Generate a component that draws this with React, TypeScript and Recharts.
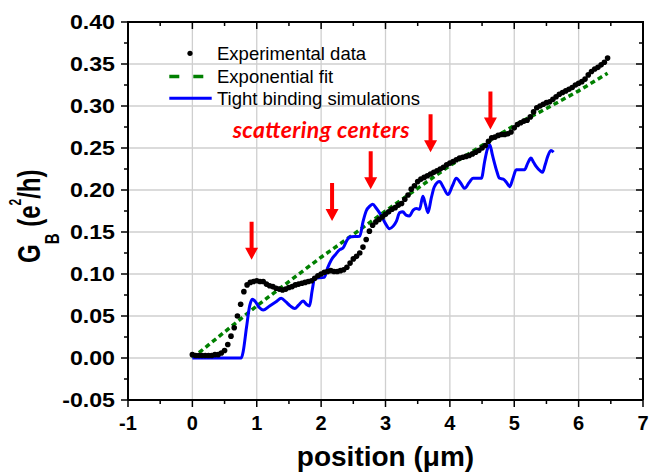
import { ComposedChart, Scatter, Line, XAxis, YAxis, Legend, ReferenceDot } from 'recharts'

const FONT = '"Liberation Sans", Arial, Helvetica, sans-serif'

// chart layout
const CHART_W = 662
const CHART_H = 473
const MARGIN = { top: 22, right: 19, bottom: 0, left: 0 }
const Y_AXIS_W = 128
const X_AXIS_H = 73
const PLOT_LEFT = MARGIN.left + Y_AXIS_W
const PLOT_TOP = MARGIN.top
const PLOT_W = CHART_W - MARGIN.right - PLOT_LEFT
const PLOT_H = CHART_H - MARGIN.bottom - X_AXIS_H - PLOT_TOP

// axis ticks
const X_MAJOR = [-1, 0, 1, 2, 3, 4, 5, 6, 7]
const X_TICKS = [-1, -0.5, 0, 0.5, 1, 1.5, 2, 2.5, 3, 3.5, 4, 4.5, 5, 5.5, 6, 6.5, 7]
const Y_MAJOR = [-0.05, 0, 0.05, 0.1, 0.15, 0.2, 0.25, 0.3, 0.35, 0.4]
const Y_TICKS = [
  -0.05, -0.025, 0, 0.025, 0.05, 0.075, 0.1, 0.125, 0.15, 0.175,
  0.2, 0.225, 0.25, 0.275, 0.3, 0.325, 0.35, 0.375, 0.4,
]
const X_MIN = -1
const X_MAX = 7
const Y_MIN = -0.05
const Y_MAX = 0.4

const SERIES_NAMES = ['Experimental data', 'Exponential fit', 'Tight binding simulations']

// experimental data (position in um, conductance in e^2/h)
const EXP_X = [
  0, 0.05, 0.1, 0.15, 0.2, 0.25, 0.3, 0.35, 0.4, 0.45,
  0.5, 0.55, 0.6, 0.65, 0.7, 0.75, 0.8, 0.85, 0.9, 0.95,
  1, 1.05, 1.1, 1.15, 1.2, 1.25, 1.3, 1.35, 1.4, 1.45,
  1.5, 1.55, 1.6, 1.65, 1.7, 1.75, 1.8, 1.85, 1.9, 1.95,
  2, 2.05, 2.1, 2.15, 2.2, 2.25, 2.3, 2.35, 2.4, 2.45,
  2.5, 2.55, 2.6, 2.65, 2.7, 2.75, 2.8, 2.85, 2.9, 2.95,
  3, 3.05, 3.1, 3.15, 3.2, 3.25, 3.3, 3.35, 3.4, 3.45,
  3.5, 3.55, 3.6, 3.65, 3.7, 3.75, 3.8, 3.85, 3.9, 3.95,
  4, 4.05, 4.1, 4.15, 4.2, 4.25, 4.3, 4.35, 4.4, 4.45,
  4.5, 4.55, 4.6, 4.65, 4.7, 4.75, 4.8, 4.85, 4.9, 4.95,
  5, 5.05, 5.1, 5.15, 5.2, 5.25, 5.3, 5.35, 5.4, 5.45,
  5.5, 5.55, 5.6, 5.65, 5.7, 5.75, 5.8, 5.85, 5.9, 5.95,
  6, 6.05, 6.1, 6.15, 6.2, 6.25, 6.3, 6.35, 6.4, 6.45,
]
const EXP_Y = [
  0.004, 0.003, 0.003, 0.003, 0.003, 0.003, 0.003, 0.004, 0.004, 0.006,
  0.009, 0.016, 0.026, 0.036, 0.05, 0.064, 0.079, 0.087, 0.09, 0.091,
  0.092, 0.091, 0.091, 0.088, 0.086, 0.085, 0.083, 0.082, 0.081, 0.082,
  0.084, 0.085, 0.087, 0.088, 0.089, 0.09, 0.091, 0.092, 0.095, 0.098,
  0.1, 0.102, 0.103, 0.104, 0.103, 0.103, 0.104, 0.105, 0.108, 0.113,
  0.118, 0.121, 0.125, 0.132, 0.141, 0.151, 0.158, 0.162, 0.165, 0.168,
  0.171, 0.174, 0.177, 0.179, 0.182, 0.184, 0.189, 0.194, 0.201, 0.205,
  0.21, 0.213, 0.215, 0.217, 0.219, 0.221, 0.223, 0.225, 0.227, 0.23,
  0.232, 0.234, 0.236, 0.238, 0.239, 0.24, 0.241, 0.243, 0.245, 0.247,
  0.25, 0.253, 0.258, 0.262, 0.263, 0.265, 0.266, 0.266, 0.267, 0.269,
  0.274, 0.278, 0.28, 0.282, 0.283, 0.287, 0.293, 0.298, 0.3, 0.302,
  0.304, 0.305, 0.308, 0.311, 0.314, 0.316, 0.318, 0.32, 0.322, 0.325,
  0.327, 0.329, 0.332, 0.337, 0.341, 0.344, 0.346, 0.349, 0.352, 0.357,
]

// exponential fit
const FIT_X = [0, 0.5, 1, 1.5, 2, 2.5, 3, 3.5, 4, 4.5, 5, 5.5, 6, 6.45]
const FIT_Y = [0, 0.031, 0.062, 0.091, 0.12, 0.147, 0.175, 0.202, 0.229, 0.253, 0.277, 0.297, 0.318, 0.339]

// tight binding simulation
const SIM_X = [
  0, 0.76, 0.79, 0.84, 0.89, 0.93, 0.98, 1.04, 1.1, 1.2,
  1.3, 1.38, 1.45, 1.52, 1.59, 1.65, 1.72, 1.77, 1.82, 1.86,
  1.9, 2.05, 2.1, 2.16, 2.22, 2.29, 2.34, 2.4, 2.44, 2.6,
  2.65, 2.7, 2.76, 2.8, 2.86, 2.93, 3, 3.06, 3.12, 3.17,
  3.22, 3.27, 3.32, 3.37, 3.43, 3.48, 3.53, 3.58, 3.62, 3.66,
  3.71, 3.76, 3.84, 3.9, 3.97, 4.04, 4.1, 4.17, 4.23, 4.3,
  4.36, 4.49, 4.54, 4.58, 4.62, 4.66, 4.69, 4.73, 4.77, 4.83,
  4.88, 4.93, 4.98, 5.03, 5.16, 5.21, 5.26, 5.3, 5.34, 5.4,
  5.44, 5.48, 5.52, 5.57, 5.61,
]
const SIM_Y = [
  0, 0, 0.008, 0.036, 0.062, 0.07, 0.067, 0.06, 0.057, 0.062,
  0.067, 0.071, 0.067, 0.062, 0.059, 0.063, 0.068, 0.064, 0.062, 0.08,
  0.095, 0.096, 0.107, 0.117, 0.123, 0.129, 0.131, 0.14, 0.144, 0.145,
  0.162, 0.175, 0.181, 0.183, 0.178, 0.17, 0.16, 0.154, 0.157, 0.163,
  0.173, 0.174, 0.17, 0.169, 0.176, 0.178, 0.177, 0.1925, 0.183, 0.173,
  0.19, 0.204, 0.21, 0.203, 0.1945, 0.205, 0.214, 0.208, 0.202, 0.209,
  0.214, 0.214, 0.234, 0.248, 0.254, 0.242, 0.233, 0.222, 0.214, 0.213,
  0.209, 0.204, 0.214, 0.224, 0.224, 0.232, 0.238, 0.233, 0.228, 0.223,
  0.221, 0.23, 0.24, 0.247, 0.245,
]

// scattering centre arrows (tip positions)
const ARROW_X = [0.92, 2.17, 2.77, 3.7, 4.63]
const ARROW_Y = [0.117, 0.163, 0.201, 0.245, 0.272]
const NOTE = { text: 'scattering centers', x: 2.0, y: 0.262 }

const expData = EXP_X.map((x, i) => ({ x, y: EXP_Y[i] }))
const fitData = FIT_X.map((x, i) => ({ x, y: FIT_Y[i] }))
const simData = SIM_X.map((x, i) => ({ x, y: SIM_Y[i] }))
const arrowData = ARROW_X.map((x, i) => ({ x, y: ARROW_Y[i] }))

const AXIS_LINE = { stroke: '#000', strokeWidth: 2 }
const GRID = '#cfcfcf'
const tickLen = (major: boolean) => (major ? 7 : 4)

// same linear mapping as the chart's axes, used for the grid and the top/right frame
const px = (v: number) => PLOT_LEFT + ((v - X_MIN) / (X_MAX - X_MIN)) * PLOT_W
const py = (v: number) => PLOT_TOP + ((Y_MAX - v) / (Y_MAX - Y_MIN)) * PLOT_H

function GridUnderlay() {
  return (
    <svg width={CHART_W} height={CHART_H} style={{ position: 'absolute', left: 0, top: 0 }}>
      {X_MAJOR.slice(1, -1).map((v) => (
        <line key={`gx${v}`} x1={px(v)} x2={px(v)} y1={PLOT_TOP} y2={PLOT_TOP + PLOT_H} stroke={GRID} strokeWidth={1.3} />
      ))}
      {Y_MAJOR.slice(1, -1).map((v) => (
        <line key={`gy${v}`} x1={PLOT_LEFT} x2={PLOT_LEFT + PLOT_W} y1={py(v)} y2={py(v)} stroke={GRID} strokeWidth={1.3} />
      ))}
    </svg>
  )
}

function FrameOverlay() {
  const right = PLOT_LEFT + PLOT_W
  return (
    <svg width={CHART_W} height={CHART_H} style={{ position: 'absolute', left: 0, top: 0, pointerEvents: 'none' }}>
      <line x1={PLOT_LEFT - 1} x2={right + 1} y1={PLOT_TOP} y2={PLOT_TOP} stroke="#000" strokeWidth={2} />
      <line x1={right} x2={right} y1={PLOT_TOP} y2={PLOT_TOP + PLOT_H} stroke="#000" strokeWidth={2} />
      {X_TICKS.map((v) => (
        <line key={`tt${v}`} x1={px(v)} x2={px(v)} y1={PLOT_TOP} y2={PLOT_TOP + tickLen(X_MAJOR.includes(v))} stroke="#000" strokeWidth={1.5} />
      ))}
      {Y_TICKS.map((v) => (
        <line key={`rt${v}`} x1={right} x2={right - tickLen(Y_MAJOR.includes(v))} y1={py(v)} y2={py(v)} stroke="#000" strokeWidth={1.5} />
      ))}
    </svg>
  )
}

function BottomTick(props: any) {
  const { x, y, payload } = props
  const major = X_MAJOR.includes(payload.value)
  return (
    <g>
      <line x1={x} y1={y} x2={x} y2={y + tickLen(major)} stroke="#000" strokeWidth={1.5} />
      {major && (
        <text x={x} y={y + 30} textAnchor="middle" fontFamily={FONT} fontWeight="bold" fontSize={20} fill="#000">
          {payload.value}
        </text>
      )}
    </g>
  )
}

function LeftTick(props: any) {
  const { x, y, payload } = props
  const major = Y_MAJOR.includes(payload.value)
  return (
    <g>
      <line x1={x} y1={y} x2={x - tickLen(major)} y2={y} stroke="#000" strokeWidth={1.5} />
      {major && (
        <text
          transform={`translate(${x - 13},${y + 7}) scale(1.16,1)`}
          textAnchor="end"
          fontFamily={FONT}
          fontWeight="bold"
          fontSize={20}
          fill="#000"
        >
          {payload.value.toFixed(2)}
        </text>
      )}
    </g>
  )
}

function XTitle(props: any) {
  const vb = props.viewBox
  return (
    <text x={vb.x + vb.width / 2} y={vb.y + 66} textAnchor="middle" fontFamily={FONT} fontWeight="bold" fontSize={28} fill="#000">
      position (μm)
    </text>
  )
}

function YTitle(props: any) {
  const vb = props.viewBox
  const bx = vb.x + 40
  const by = vb.y + vb.height / 2 + 52
  return (
    <text
      transform={`translate(${bx},${by}) scale(1.3,1) rotate(-90)`}
      textAnchor="start"
      fontFamily={FONT}
      fontWeight="bold"
      fontSize={24}
      fill="#000"
    >
      <tspan>G</tspan>
      <tspan fontSize={15} dy={15}>B</tspan>
      <tspan dy={-15}> (e</tspan>
      <tspan fontSize={12} dy={-15}>2</tspan>
      <tspan dy={15}>/h)</tspan>
    </text>
  )
}

function Dot(props: any) {
  return <circle cx={props.cx} cy={props.cy} r={2.8} fill="#000" />
}

function Arrow(props: any) {
  const { cx, cy } = props
  return <path d={`M${cx - 2},${cy - 38} h4 v26 h4.5 L${cx},${cy} L${cx - 6.5},${cy - 12} h4.5 z`} fill="#ff0000" />
}

function NoteText(props: any) {
  return (
    <text
      x={props.cx}
      y={props.cy}
      textAnchor="middle"
      textLength={177}
      fontFamily="Lato, 'Open Sans', sans-serif"
      fontWeight="bold"
      fontStyle="italic"
      fontSize={23}
      fill="#ff0000"
    >
      {NOTE.text}
    </text>
  )
}

function LegendBox() {
  const rowY = [13.3, 36.5, 58.3]
  return (
    <svg width={260} height={75} style={{ display: 'block' }}>
      <circle cx={25} cy={rowY[0]} r={2.6} fill="#000" />
      <line x1={4.3} x2={39} y1={rowY[1]} y2={rowY[1]} stroke="#008000" strokeWidth={3.5} strokeDasharray="10 14" />
      <line x1={4.3} x2={46.7} y1={rowY[2]} y2={rowY[2]} stroke="#0000ff" strokeWidth={3} />
      {SERIES_NAMES.map((name, i) => (
        <text key={name} x={52} y={rowY[i] + 6.6} fontFamily={FONT} fontSize={18.5} fill="#000">
          {name}
        </text>
      ))}
    </svg>
  )
}

export default function App() {
  return (
    <div style={{ position: 'absolute', left: 0, top: 0, width: CHART_W, height: CHART_H, background: '#fff' }}>
      <GridUnderlay />
      <div style={{ position: 'absolute', left: 0, top: 0 }}>
        <ComposedChart width={CHART_W} height={CHART_H} margin={MARGIN}>
          <XAxis
            dataKey="x"
            type="number"
            domain={[X_MIN, X_MAX]}
            ticks={X_TICKS}
            interval={0}
            height={X_AXIS_H}
            tickSize={0}
            tickMargin={0}
            tickLine={false}
            tick={BottomTick}
            axisLine={AXIS_LINE}
            label={XTitle}
          />
          <YAxis
            dataKey="y"
            type="number"
            domain={[Y_MIN, Y_MAX]}
            ticks={Y_TICKS}
            interval={0}
            width={Y_AXIS_W}
            tickSize={0}
            tickMargin={0}
            tickLine={false}
            tick={LeftTick}
            axisLine={AXIS_LINE}
            label={YTitle}
          />
          <Legend
            layout="vertical"
            align="center"
            verticalAlign="middle"
            content={() => <LegendBox />}
            wrapperStyle={{ position: 'absolute', left: 165, top: 40, width: 260, height: 75 }}
          />
          <Line
            name={SERIES_NAMES[1]}
            data={fitData}
            dataKey="y"
            type="linear"
            stroke="#008000"
            strokeWidth={3.5}
            strokeDasharray="5 3.5"
            dot={false}
            activeDot={false}
            isAnimationActive={false}
          />
          <Line
            name={SERIES_NAMES[2]}
            data={simData}
            dataKey="y"
            type="monotone"
            stroke="#0000ff"
            strokeWidth={3}
            dot={false}
            activeDot={false}
            isAnimationActive={false}
          />
          <Scatter name={SERIES_NAMES[0]} data={expData} dataKey="y" fill="#000" shape={Dot} isAnimationActive={false} />
          <Scatter data={arrowData} dataKey="y" fill="#ff0000" shape={Arrow} legendType="none" isAnimationActive={false} />
          <ReferenceDot x={NOTE.x} y={NOTE.y} r={0} shape={NoteText} ifOverflow="visible" />
        </ComposedChart>
      </div>
      <FrameOverlay />
    </div>
  )
}
